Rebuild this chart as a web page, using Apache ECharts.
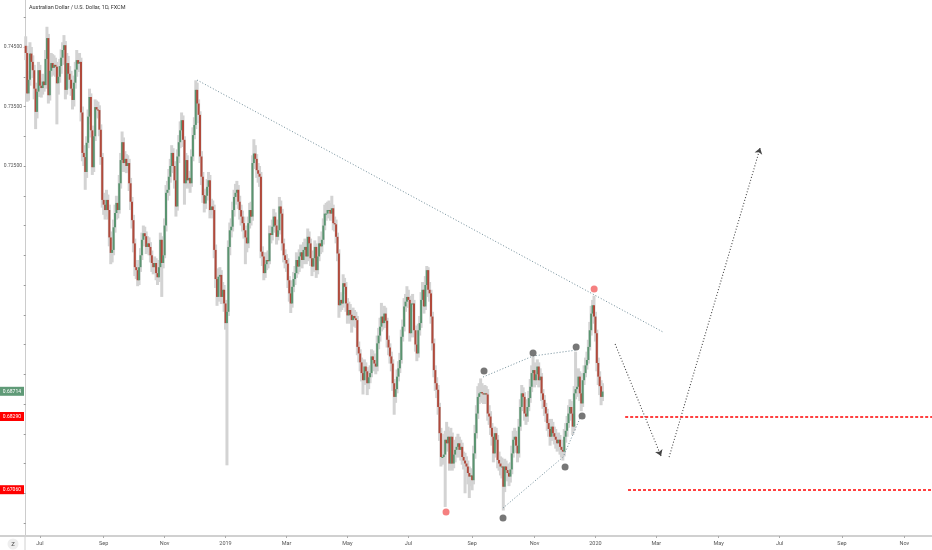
<!DOCTYPE html>
<html>
<head>
<meta charset="utf-8">
<script src="https://cdn.jsdelivr.net/npm/echarts@6/dist/echarts.min.js"></script>
<style>
html,body{margin:0;padding:0;background:#fff;}
#chart{width:932px;height:550px;}
</style>
</head>
<body>
<div id="chart"></div>
<script>
// ---------------- data ----------------
const START_DATE = '2018-06-18';
const BAR_COUNT = 640;
const TITLE = 'Australian Dollar / U.S. Dollar, 1D, FXCM';

const opens = [
0.7452,0.7440,0.7372,0.7395,0.7439,0.7425,0.7411,0.7380,0.7341,0.7375,
0.7411,0.7385,0.7381,0.7392,0.7386,0.7430,0.7465,0.7369,0.7410,0.7423,
0.7415,0.7420,0.7417,0.7389,0.7400,0.7418,0.7432,0.7445,0.7453,0.7378,
0.7423,0.7405,0.7395,0.7380,0.7361,0.7390,0.7412,0.7428,0.7422,0.7425,
0.7340,0.7272,0.7265,0.7240,0.7289,0.7333,0.7366,0.7310,0.7248,0.7300,
0.7349,0.7345,0.7344,0.7311,0.7265,0.7193,0.7185,0.7176,0.7193,0.7176,
0.7130,0.7104,0.7109,0.7147,0.7171,0.7188,0.7176,0.7221,0.7260,0.7290,
0.7255,0.7262,0.7250,0.7255,0.7221,0.7190,0.7159,0.7120,0.7080,0.7075,
0.7058,0.7080,0.7100,0.7126,0.7137,0.7132,0.7114,0.7120,0.7114,0.7100,
0.7087,0.7080,0.7087,0.7070,0.7063,0.7080,0.7126,0.7087,0.7100,0.7150,
0.7205,0.7210,0.7232,0.7250,0.7272,0.7250,0.7226,0.7182,0.7266,0.7290,
0.7310,0.7327,0.7294,0.7221,0.7260,0.7226,0.7230,0.7221,0.7266,0.7302,
0.7319,0.7378,0.7355,0.7336,0.7266,0.7232,0.7201,0.7187,0.7200,0.7215,
0.7226,0.7176,0.7182,0.7176,0.7109,0.7060,0.7030,0.7064,0.7067,0.7030,
0.7042,0.7019,0.6986,0.7005,0.7114,0.7142,0.7148,0.7176,0.7198,0.7205,
0.7210,0.7190,0.7176,0.7165,0.7154,0.7142,0.7130,0.7120,0.7154,0.7176,
0.7165,0.7255,0.7271,0.7262,0.7243,0.7237,0.7232,0.7106,0.7098,0.7070,
0.7085,0.7092,0.7090,0.7137,0.7134,0.7148,0.7165,0.7150,0.7131,0.7142,
0.7182,0.7170,0.7120,0.7100,0.7092,0.7086,0.7058,0.7036,0.7019,0.7047,
0.7060,0.7070,0.7092,0.7081,0.7098,0.7105,0.7092,0.7109,0.7114,0.7098,
0.7131,0.7120,0.7095,0.7081,0.7095,0.7114,0.7075,0.7098,0.7120,0.7115,
0.7126,0.7150,0.7170,0.7170,0.7176,0.7176,0.7170,0.7179,0.7154,0.7152,
0.7131,0.7103,0.7016,0.7025,0.7019,0.7053,0.7047,0.7019,0.6999,0.7008,
0.7000,0.6991,0.6998,0.6994,0.6991,0.6946,0.6935,0.6920,0.6902,0.6890,
0.6913,0.6905,0.6885,0.6895,0.6902,0.6930,0.6924,0.6918,0.6913,0.6952,
0.6965,0.6980,0.6997,0.6986,0.7002,0.6990,0.6958,0.6945,0.6930,0.6918,
0.6885,0.6862,0.6875,0.6896,0.6910,0.6924,0.6963,0.6980,0.7014,0.7022,
0.7030,0.7025,0.6969,0.7019,0.7019,0.6974,0.6950,0.6935,0.6974,0.6986,
0.7025,0.7042,0.7014,0.7050,0.7075,0.7042,0.7036,0.6997,0.6952,0.6907,
0.6885,0.6874,0.6845,0.6801,0.6761,0.6761,0.6765,0.6790,0.6784,0.6795,
0.6750,0.6795,0.6750,0.6765,0.6773,0.6778,0.6784,0.6773,0.6778,0.6761,
0.6755,0.6750,0.6745,0.6734,0.6728,0.6730,0.6722,0.6767,0.6801,0.6834,
0.6862,0.6868,0.6870,0.6868,0.6866,0.6868,0.6866,0.6834,0.6829,0.6810,
0.6795,0.6767,0.6801,0.6790,0.6756,0.6750,0.6745,0.6745,0.6711,0.6745,
0.6739,0.6734,0.6728,0.6740,0.6767,0.6790,0.6795,0.6780,0.6767,0.6812,
0.6845,0.6868,0.6862,0.6834,0.6829,0.6845,0.6860,0.6879,0.6902,0.6907,
0.6890,0.6900,0.6913,0.6890,0.6896,0.6868,0.6857,0.6845,0.6834,0.6818,
0.6808,0.6795,0.6812,0.6801,0.6795,0.6790,0.6784,0.6790,0.6778,0.6773,
0.6770,0.6795,0.6805,0.6818,0.6834,0.6845,0.6834,0.6812,0.6868,0.6875,
0.6879,0.6896,0.6868,0.6851,0.6890,0.6902,0.6915,0.6924,0.6946,0.6974,
0.7002,0.7016,0.6997,0.6969,0.6919,0.6896,0.6880,0.6862
];

const closes = [
0.7440,0.7372,0.7395,0.7439,0.7425,0.7411,0.7380,0.7341,0.7375,0.7411,
0.7385,0.7381,0.7392,0.7386,0.7430,0.7465,0.7369,0.7410,0.7423,0.7415,
0.7420,0.7417,0.7389,0.7400,0.7418,0.7432,0.7445,0.7453,0.7378,0.7423,
0.7405,0.7395,0.7380,0.7361,0.7390,0.7412,0.7428,0.7422,0.7425,0.7340,
0.7272,0.7265,0.7240,0.7289,0.7333,0.7366,0.7310,0.7248,0.7300,0.7349,
0.7345,0.7344,0.7311,0.7265,0.7193,0.7185,0.7176,0.7193,0.7176,0.7130,
0.7104,0.7109,0.7147,0.7171,0.7188,0.7176,0.7221,0.7260,0.7290,0.7255,
0.7262,0.7250,0.7255,0.7221,0.7190,0.7159,0.7120,0.7080,0.7075,0.7058,
0.7080,0.7100,0.7126,0.7137,0.7132,0.7114,0.7120,0.7114,0.7100,0.7087,
0.7080,0.7087,0.7070,0.7063,0.7080,0.7126,0.7087,0.7100,0.7150,0.7205,
0.7210,0.7232,0.7250,0.7272,0.7250,0.7226,0.7182,0.7266,0.7290,0.7310,
0.7327,0.7294,0.7221,0.7260,0.7226,0.7230,0.7221,0.7266,0.7302,0.7319,
0.7378,0.7355,0.7336,0.7266,0.7232,0.7201,0.7187,0.7200,0.7215,0.7226,
0.7176,0.7182,0.7176,0.7109,0.7060,0.7030,0.7064,0.7067,0.7030,0.7042,
0.7019,0.6986,0.7005,0.7114,0.7142,0.7148,0.7176,0.7198,0.7205,0.7210,
0.7190,0.7176,0.7165,0.7154,0.7142,0.7130,0.7120,0.7154,0.7176,0.7165,
0.7255,0.7271,0.7262,0.7243,0.7237,0.7232,0.7106,0.7098,0.7070,0.7085,
0.7092,0.7090,0.7137,0.7134,0.7148,0.7165,0.7150,0.7131,0.7142,0.7182,
0.7170,0.7120,0.7100,0.7092,0.7086,0.7058,0.7036,0.7019,0.7047,0.7060,
0.7070,0.7092,0.7081,0.7098,0.7105,0.7092,0.7109,0.7114,0.7098,0.7131,
0.7120,0.7095,0.7081,0.7095,0.7114,0.7075,0.7098,0.7120,0.7115,0.7126,
0.7150,0.7170,0.7170,0.7176,0.7176,0.7170,0.7179,0.7154,0.7152,0.7131,
0.7103,0.7016,0.7025,0.7019,0.7053,0.7047,0.7019,0.6999,0.7008,0.7000,
0.6991,0.6998,0.6994,0.6991,0.6946,0.6935,0.6920,0.6902,0.6890,0.6913,
0.6905,0.6885,0.6895,0.6902,0.6930,0.6924,0.6918,0.6913,0.6952,0.6965,
0.6980,0.6997,0.6986,0.7002,0.6990,0.6958,0.6945,0.6930,0.6918,0.6885,
0.6862,0.6875,0.6896,0.6910,0.6924,0.6963,0.6980,0.7014,0.7022,0.7030,
0.7025,0.6969,0.7019,0.7019,0.6974,0.6950,0.6935,0.6974,0.6986,0.7025,
0.7042,0.7014,0.7050,0.7075,0.7042,0.7036,0.6997,0.6952,0.6907,0.6885,
0.6874,0.6845,0.6801,0.6761,0.6761,0.6765,0.6790,0.6784,0.6795,0.6750,
0.6795,0.6750,0.6765,0.6773,0.6778,0.6784,0.6773,0.6778,0.6761,0.6755,
0.6750,0.6745,0.6734,0.6728,0.6730,0.6722,0.6767,0.6801,0.6834,0.6862,
0.6868,0.6870,0.6868,0.6866,0.6868,0.6866,0.6834,0.6829,0.6810,0.6795,
0.6767,0.6801,0.6790,0.6756,0.6750,0.6745,0.6745,0.6711,0.6745,0.6739,
0.6734,0.6728,0.6740,0.6767,0.6790,0.6795,0.6780,0.6767,0.6812,0.6845,
0.6868,0.6862,0.6834,0.6829,0.6845,0.6860,0.6879,0.6902,0.6907,0.6890,
0.6900,0.6913,0.6890,0.6896,0.6868,0.6857,0.6845,0.6834,0.6818,0.6808,
0.6795,0.6812,0.6801,0.6795,0.6790,0.6784,0.6790,0.6778,0.6773,0.6770,
0.6795,0.6805,0.6818,0.6834,0.6845,0.6834,0.6812,0.6868,0.6875,0.6879,
0.6896,0.6868,0.6851,0.6890,0.6902,0.6915,0.6924,0.6946,0.6974,0.7002,
0.7016,0.6997,0.6969,0.6919,0.6896,0.6880,0.6862,0.6871
];

const highs = [
0.7468,0.7452,0.7410,0.7458,0.7450,0.7436,0.7420,0.7390,0.7388,0.7425,
0.7420,0.7398,0.7405,0.7402,0.7445,0.7484,0.7472,0.7425,0.7440,0.7438,
0.7436,0.7432,0.7425,0.7412,0.7430,0.7446,0.7458,0.7470,0.7460,0.7440,
0.7435,0.7418,0.7410,0.7395,0.7402,0.7425,0.7445,0.7438,0.7440,0.7432,
0.7350,0.7285,0.7272,0.7300,0.7345,0.7380,0.7372,0.7318,0.7312,0.7362,
0.7360,0.7358,0.7352,0.7320,0.7272,0.7205,0.7198,0.7210,0.7202,0.7185,
0.7140,0.7122,0.7160,0.7185,0.7200,0.7198,0.7235,0.7272,0.7308,0.7298,
0.7275,0.7270,0.7268,0.7262,0.7230,0.7198,0.7168,0.7128,0.7092,0.7085,
0.7092,0.7112,0.7138,0.7150,0.7148,0.7140,0.7132,0.7130,0.7122,0.7108,
0.7095,0.7098,0.7095,0.7080,0.7092,0.7138,0.7132,0.7112,0.7162,0.7218,
0.7225,0.7245,0.7262,0.7285,0.7280,0.7258,0.7232,0.7278,0.7302,0.7325,
0.7340,0.7335,0.7300,0.7272,0.7268,0.7242,0.7238,0.7278,0.7315,0.7332,
0.7394,0.7390,0.7362,0.7342,0.7275,0.7240,0.7210,0.7212,0.7228,0.7240,
0.7235,0.7195,0.7192,0.7185,0.7118,0.7068,0.7078,0.7080,0.7075,0.7055,
0.7050,0.7025,0.7020,0.7125,0.7155,0.7162,0.7190,0.7210,0.7220,0.7225,
0.7218,0.7200,0.7185,0.7175,0.7165,0.7150,0.7140,0.7165,0.7188,0.7190,
0.7268,0.7295,0.7285,0.7270,0.7255,0.7250,0.7240,0.7115,0.7105,0.7098,
0.7105,0.7108,0.7150,0.7148,0.7160,0.7178,0.7172,0.7160,0.7155,0.7198,
0.7192,0.7178,0.7128,0.7110,0.7102,0.7095,0.7065,0.7042,0.7058,0.7072,
0.7082,0.7105,0.7100,0.7110,0.7118,0.7115,0.7122,0.7128,0.7122,0.7145,
0.7140,0.7128,0.7102,0.7108,0.7125,0.7120,0.7110,0.7132,0.7130,0.7140,
0.7162,0.7185,0.7188,0.7190,0.7192,0.7188,0.7200,0.7185,0.7165,0.7160,
0.7138,0.7110,0.7038,0.7035,0.7068,0.7062,0.7055,0.7028,0.7022,0.7018,
0.7010,0.7012,0.7008,0.7005,0.6998,0.6955,0.6942,0.6928,0.6910,0.6925,
0.6920,0.6912,0.6908,0.6915,0.6942,0.6940,0.6935,0.6930,0.6965,0.6978,
0.6995,0.7020,0.7008,0.7015,0.7012,0.6995,0.6965,0.6952,0.6938,0.6925,
0.6892,0.6888,0.6908,0.6922,0.6936,0.6975,0.6992,0.7028,0.7035,0.7048,
0.7042,0.7030,0.7032,0.7035,0.7025,0.6982,0.6958,0.6985,0.6998,0.7038,
0.7055,0.7050,0.7065,0.7082,0.7080,0.7055,0.7042,0.7005,0.6960,0.6915,
0.6895,0.6882,0.6852,0.6810,0.6800,0.6782,0.6805,0.6820,0.6812,0.6805,
0.6810,0.6802,0.6780,0.6790,0.6795,0.6800,0.6795,0.6790,0.6785,0.6770,
0.6768,0.6762,0.6755,0.6745,0.6742,0.6740,0.6780,0.6815,0.6848,0.6880,
0.6885,0.6893,0.6885,0.6880,0.6882,0.6880,0.6875,0.6848,0.6838,0.6818,
0.6802,0.6812,0.6810,0.6798,0.6770,0.6762,0.6760,0.6752,0.6758,0.6755,
0.6750,0.6745,0.6752,0.6780,0.6805,0.6810,0.6805,0.6790,0.6825,0.6858,
0.6882,0.6878,0.6870,0.6845,0.6858,0.6872,0.6892,0.6915,0.6929,0.6920,
0.6915,0.6925,0.6920,0.6910,0.6902,0.6875,0.6865,0.6852,0.6842,0.6825,
0.6815,0.6825,0.6820,0.6812,0.6808,0.6800,0.6802,0.6798,0.6790,0.6785,
0.6808,0.6818,0.6830,0.6848,0.6858,0.6855,0.6842,0.6880,0.6938,0.6892,
0.6910,0.6905,0.6875,0.6902,0.6915,0.6928,0.6938,0.6958,0.6988,0.7015,
0.7025,0.7032,0.7005,0.6975,0.6928,0.6905,0.6890,0.6885
];

const lows = [
0.7428,0.7358,0.7360,0.7385,0.7412,0.7398,0.7362,0.7312,0.7330,0.7366,
0.7372,0.7365,0.7370,0.7375,0.7380,0.7422,0.7355,0.7360,0.7400,0.7402,
0.7405,0.7400,0.7320,0.7370,0.7390,0.7405,0.7420,0.7432,0.7362,0.7370,
0.7392,0.7380,0.7368,0.7345,0.7350,0.7380,0.7400,0.7410,0.7408,0.7325,
0.7258,0.7250,0.7210,0.7230,0.7280,0.7320,0.7298,0.7235,0.7240,0.7292,
0.7332,0.7330,0.7300,0.7252,0.7180,0.7168,0.7160,0.7165,0.7160,0.7115,
0.7085,0.7088,0.7100,0.7138,0.7160,0.7162,0.7170,0.7212,0.7250,0.7240,
0.7245,0.7238,0.7240,0.7208,0.7176,0.7145,0.7105,0.7065,0.7060,0.7048,
0.7050,0.7072,0.7092,0.7115,0.7120,0.7102,0.7105,0.7100,0.7088,0.7072,
0.7068,0.7070,0.7058,0.7050,0.7055,0.7075,0.7030,0.7078,0.7095,0.7140,
0.7192,0.7200,0.7222,0.7240,0.7238,0.7212,0.7165,0.7175,0.7255,0.7280,
0.7300,0.7282,0.7185,0.7212,0.7215,0.7212,0.7205,0.7215,0.7258,0.7295,
0.7312,0.7342,0.7322,0.7255,0.7218,0.7188,0.7172,0.7178,0.7192,0.7205,
0.7162,0.7168,0.7162,0.7095,0.7045,0.7015,0.7022,0.7050,0.7018,0.7020,
0.7005,0.6975,0.6747,0.6998,0.7100,0.7130,0.7140,0.7165,0.7185,0.7192,
0.7178,0.7160,0.7150,0.7140,0.7128,0.7085,0.7105,0.7112,0.7145,0.7150,
0.7158,0.7245,0.7248,0.7230,0.7222,0.7215,0.7095,0.7082,0.7058,0.7062,
0.7075,0.7078,0.7085,0.7120,0.7125,0.7140,0.7138,0.7118,0.7125,0.7135,
0.7158,0.7108,0.7088,0.7078,0.7072,0.7045,0.7022,0.7003,0.7012,0.7038,
0.7050,0.7062,0.7068,0.7072,0.7088,0.7078,0.7085,0.7098,0.7085,0.7090,
0.7108,0.7082,0.7065,0.7072,0.7088,0.7062,0.7068,0.7090,0.7102,0.7105,
0.7118,0.7142,0.7158,0.7162,0.7165,0.7158,0.7162,0.7142,0.7140,0.7120,
0.7090,0.6995,0.7005,0.7008,0.7012,0.7035,0.7005,0.6985,0.6990,0.6985,
0.6970,0.6982,0.6980,0.6978,0.6932,0.6920,0.6905,0.6888,0.6866,0.6882,
0.6892,0.6865,0.6875,0.6885,0.6895,0.6912,0.6905,0.6900,0.6905,0.6942,
0.6955,0.6972,0.6975,0.6978,0.6978,0.6945,0.6932,0.6918,0.6905,0.6872,
0.6832,0.6852,0.6868,0.6888,0.6902,0.6918,0.6955,0.6972,0.7005,0.7012,
0.7012,0.6955,0.6962,0.7005,0.6962,0.6938,0.6922,0.6928,0.6965,0.6978,
0.7015,0.7002,0.7008,0.7040,0.7030,0.7022,0.6985,0.6940,0.6895,0.6872,
0.6860,0.6832,0.6788,0.6745,0.6748,0.6750,0.6677,0.6770,0.6775,0.6738,
0.6742,0.6738,0.6742,0.6752,0.6760,0.6765,0.6760,0.6755,0.6748,0.6740,
0.6700,0.6730,0.6715,0.6692,0.6712,0.6705,0.6715,0.6758,0.6792,0.6825,
0.6850,0.6855,0.6852,0.6850,0.6852,0.6850,0.6822,0.6815,0.6798,0.6780,
0.6752,0.6760,0.6775,0.6742,0.6738,0.6730,0.6725,0.6671,0.6702,0.6722,
0.6720,0.6712,0.6718,0.6732,0.6760,0.6778,0.6768,0.6752,0.6760,0.6805,
0.6838,0.6850,0.6822,0.6815,0.6820,0.6838,0.6852,0.6870,0.6895,0.6878,
0.6882,0.6890,0.6878,0.6880,0.6855,0.6842,0.6830,0.6820,0.6805,0.6795,
0.6780,0.6788,0.6790,0.6782,0.6775,0.6770,0.6772,0.6765,0.6760,0.6755,
0.6762,0.6785,0.6795,0.6810,0.6825,0.6822,0.6798,0.6805,0.6858,0.6862,
0.6870,0.6855,0.6838,0.6845,0.6882,0.6895,0.6908,0.6918,0.6940,0.6965,
0.6995,0.6985,0.6955,0.6905,0.6882,0.6865,0.6848,0.6855
];

// axis ticks / labels
const yTickValues = [0.665,0.670,0.675,0.680,0.685,0.690,0.695,0.700,0.705,0.710,0.715,0.720,0.725,0.730,0.735,0.740,0.745,0.750];
const yLabelValues = [0.725,0.735,0.745];
const monthNames = ['Jan','Feb','Mar','Apr','May','Jun','Jul','Aug','Sep','Oct','Nov','Dec'];

// price tags and levels
const lastPrice = 0.68714;
const levelPrices = [0.68290, 0.67060];
const levelStart = [423, 425];

// drawings (x in bar index, y in price)
const trendLine = [[120.9, 0.73945], [449.7, 0.69710]];
const upperPath = [[322.7, 0.68954], [358.0, 0.69307], [389.0, 0.69408]];
const lowerPath = [[336.8, 0.66752], [379.2, 0.67609], [391.2, 0.68265]];
const greyDots = [[323.4, 0.69055], [358.0, 0.69357], [388.4, 0.69458], [392.6, 0.68298], [380.6, 0.67441], [336.8, 0.66584]];
const redDots = [[401.1, 0.70433], [296.6, 0.66685]];
const projDown = [[415.9, 0.69508], [448.3, 0.67626]];
const projUp = [[454.0, 0.67609], [518.2, 0.72803]];

// ---------------- build ----------------
const Y_MIN = 0.66282, Y_MAX = 0.75290;
const dates = [];
(function () {
  const d = new Date(START_DATE + 'T00:00:00Z');
  while (dates.length < BAR_COUNT) {
    const wd = d.getUTCDay();
    if (wd !== 0 && wd !== 6) dates.push(d.toISOString().slice(0, 10));
    d.setUTCDate(d.getUTCDate() + 1);
  }
})();

function isLabelIdx(idx) {
  if (idx <= 0) return false;
  const m = dates[idx].slice(5, 7), pm = dates[idx - 1].slice(5, 7);
  return m !== pm && (parseInt(m, 10) % 2 === 1);
}
function labelText(val) {
  const m = parseInt(val.slice(5, 7), 10);
  return m === 1 ? val.slice(0, 4) : monthNames[m - 1];
}

const candleData = closes.map((c, i) => [i, opens[i], c, lows[i], highs[i]]);

const UP = '#5a9470', DOWN = '#b04a3c', WICK = '#d3d3d3';

function wickItem(params, api) {
  const i = api.value(0);
  const pH = api.coord([i, api.value(4)]);
  const pL = api.coord([i, api.value(3)]);
  const w = 3;
  return { type: 'rect', shape: { x: pH[0] - w / 2, y: pH[1], width: w, height: Math.max(1, pL[1] - pH[1]) }, style: { fill: WICK } };
}
function bodyItem(params, api) {
  const i = api.value(0);
  const o = api.value(1), c = api.value(2);
  const pO = api.coord([i, o]);
  const pC = api.coord([i, c]);
  const w = 2;
  const top = Math.min(pO[1], pC[1]);
  return { type: 'rect', shape: { x: pO[0] - w / 2, y: top, width: w, height: Math.max(1, Math.abs(pC[1] - pO[1])) }, style: { fill: c >= o ? UP : DOWN } };
}

const dotLine = (coords, color, width) => ({
  type: 'lines', coordinateSystem: 'cartesian2d', xAxisIndex: 1, yAxisIndex: 0,
  polyline: true, silent: true, z: 6,
  symbol: ['none', 'none'],
  lineStyle: { color: color, width: width, type: [1, 2], opacity: 1 },
  data: [{ coords: coords }]
});
const arrowLine = (coords) => ({
  type: 'lines', coordinateSystem: 'cartesian2d', xAxisIndex: 1, yAxisIndex: 0,
  silent: true, z: 6,
  symbol: ['none', 'arrow'], symbolSize: 6,
  lineStyle: { color: '#444', width: 1.1, type: [1, 2], opacity: 1 },
  data: [{ coords: coords }]
});
const levelLine = (k) => ({
  type: 'lines', coordinateSystem: 'cartesian2d', xAxisIndex: 1, yAxisIndex: 0,
  silent: true, z: 6, symbol: ['none', 'none'],
  lineStyle: { color: '#ff0000', width: 1.6, type: [3, 2], opacity: 1 },
  data: [{ coords: [[levelStart[k], levelPrices[k]], [BAR_COUNT - 0.5, levelPrices[k]]] }]
});

const tagValues = [lastPrice].concat(levelPrices);

const chart = echarts.init(document.getElementById('chart'), null, { renderer: 'canvas' });
chart.setOption({
  animation: false,
  backgroundColor: '#ffffff',
  textStyle: { fontFamily: 'Roboto' },
  title: { text: TITLE, left: 29, top: 5, padding: 0, textStyle: { fontSize: 5.5, fontWeight: 'normal', color: '#333', fontFamily: 'Roboto' } },
  grid: { left: 25, right: 0, top: 0, bottom: 14, containLabel: false, outerBoundsMode: 'none' },
  xAxis: [{
    type: 'category', data: dates, boundaryGap: true,
    axisLine: { show: true, lineStyle: { color: '#d0d0d0', width: 2 } },
    axisTick: { show: true, interval: (i) => isLabelIdx(i), alignWithLabel: true, length: 2, lineStyle: { color: '#aaa' } },
    axisLabel: { interval: (i) => isLabelIdx(i), formatter: (v) => labelText(v), fontSize: 5.5, color: '#555', margin: 5, hideOverlap: false },
    splitLine: { show: false }
  }, {
    type: 'value', min: -0.5, max: BAR_COUNT - 0.5, show: false, position: 'bottom'
  }],
  yAxis: [{
    type: 'value', min: Y_MIN, max: Y_MAX, position: 'left',
    axisLine: { show: true, lineStyle: { color: '#cccccc', width: 1 } },
    axisTick: { show: true, customValues: yTickValues, length: 2, lineStyle: { color: '#999' } },
    axisLabel: { customValues: yLabelValues, formatter: (v) => v.toFixed(5), fontSize: 5, color: '#555', margin: 3 },
    splitLine: { show: false }
  }, {
    type: 'value', min: Y_MIN, max: Y_MAX, position: 'left', offset: 0,
    axisLine: { show: false }, axisTick: { show: false }, splitLine: { show: false },
    axisLabel: {
      customValues: tagValues, margin: 1, fontSize: 5,
      formatter: (v) => (Math.abs(v - lastPrice) < 1e-6 ? '{g|' : '{r|') + v.toFixed(5) + '}',
      rich: {
        g: { backgroundColor: '#5f9a77', color: '#fff', fontSize: 5, padding: [2, 3], fontFamily: 'Roboto' },
        r: { backgroundColor: '#ff0000', color: '#fff', fontSize: 5, padding: [2, 3], fontFamily: 'Roboto' }
      }
    }
  }],
  series: [
    { type: 'custom', name: 'range', xAxisIndex: 0, yAxisIndex: 0, renderItem: wickItem, data: candleData, encode: { x: 0, y: [1, 2, 3, 4] }, silent: true, z: 2, clip: false },
    { type: 'custom', name: 'body', xAxisIndex: 0, yAxisIndex: 0, renderItem: bodyItem, data: candleData, encode: { x: 0, y: [1, 2, 3, 4] }, silent: true, z: 3, clip: false },
    dotLine(trendLine, '#6f8c98', 1),
    dotLine(upperPath, '#6f8c98', 1),
    dotLine(lowerPath, '#6f8c98', 1),
    arrowLine(projDown),
    arrowLine(projUp),
    levelLine(0),
    levelLine(1),
    { type: 'scatter', xAxisIndex: 1, yAxisIndex: 0, data: greyDots, symbolSize: 7, itemStyle: { color: '#555555' }, silent: true, z: 7 },
    { type: 'scatter', xAxisIndex: 1, yAxisIndex: 0, data: redDots, symbolSize: 7, itemStyle: { color: '#f26060' }, silent: true, z: 7 }
  ],
  graphic: [
    { type: 'line', shape: { x1: 0, y1: 536, x2: 25, y2: 536 }, style: { stroke: '#d0d0d0', lineWidth: 2 }, silent: true },
    { type: 'line', shape: { x1: 25, y1: 537, x2: 25, y2: 550 }, style: { stroke: '#d0d0d0', lineWidth: 1 }, silent: true },
    { type: 'circle', shape: { cx: 13, cy: 544, r: 5.5 }, style: { fill: '#eeeeee' }, silent: true },
    { type: 'text', x: 13, y: 544, style: { text: 'Z', fontSize: 6, fill: '#555', align: 'center', verticalAlign: 'middle', fontFamily: 'Roboto' }, silent: true }
  ]
});
</script>
</body>
</html>
